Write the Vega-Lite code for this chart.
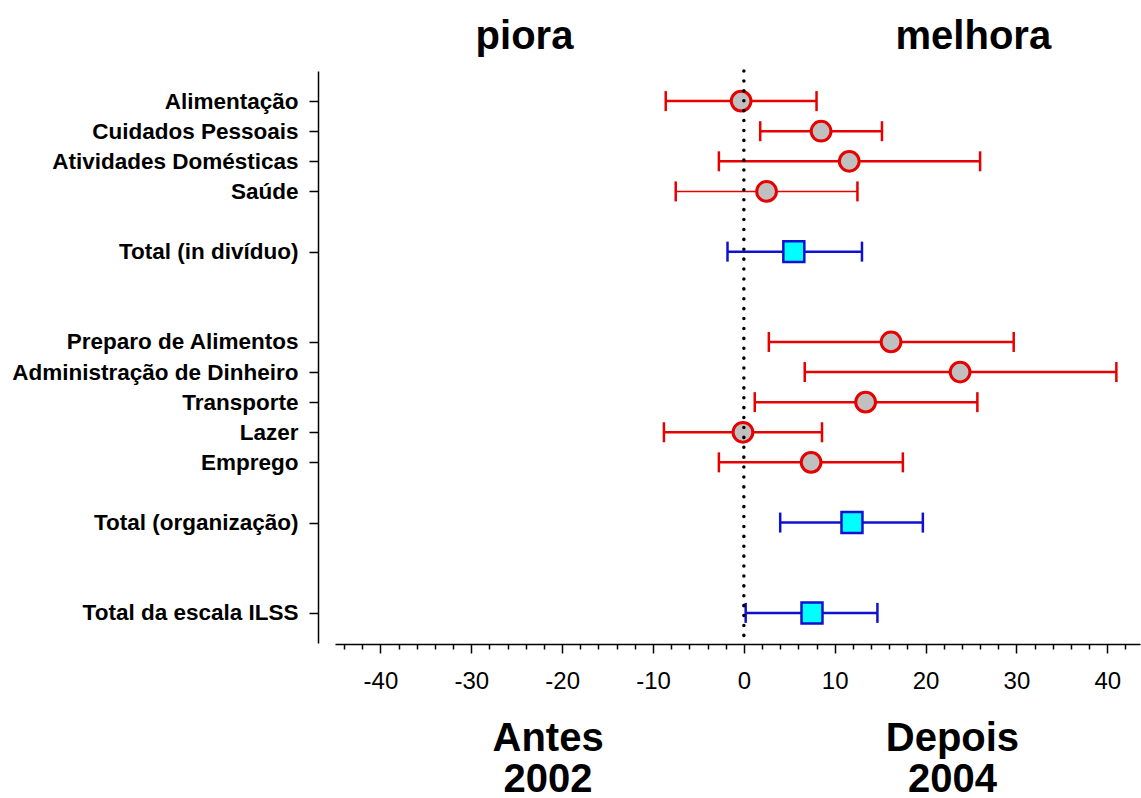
{
  "$schema": "https://vega.github.io/schema/vega-lite/v6.json",
  "width": 805,
  "height": 572,
  "autosize": {"type": "none"},
  "padding": {"left": 335, "top": 71, "right": 1, "bottom": 155},
  "background": "white",
  "config": {"view": {"stroke": null}, "font": "Liberation Sans"},
  "data": {"values": [
    {"name": "Alimentação", "kind": "item", "est": -0.3, "low": -8.6, "high": 8.0},
    {"name": "Cuidados Pessoais", "kind": "item", "est": 8.5, "low": 1.8, "high": 15.2},
    {"name": "Atividades Domésticas", "kind": "item", "est": 11.6, "low": -2.75, "high": 26.0},
    {"name": "Saúde", "kind": "item", "est": 2.5, "low": -7.5, "high": 12.5},
    {"name": "Total (in divíduo)", "kind": "total", "est": 5.5, "low": -1.8, "high": 13.0},
    {"name": "Preparo de Alimentos", "kind": "item", "est": 16.2, "low": 2.75, "high": 29.7},
    {"name": "Administração de Dinheiro", "kind": "item", "est": 23.8, "low": 6.7, "high": 41.0},
    {"name": "Transporte", "kind": "item", "est": 13.4, "low": 1.2, "high": 25.7},
    {"name": "Lazer", "kind": "item", "est": -0.1, "low": -8.8, "high": 8.6},
    {"name": "Emprego", "kind": "item", "est": 7.4, "low": -2.75, "high": 17.5},
    {"name": "Total (organização)", "kind": "total", "est": 11.9, "low": 4.0, "high": 19.7},
    {"name": "Total da escala ILSS", "kind": "total", "est": 7.5, "low": 0.2, "high": 14.7}
  ]},
  "resolve": {"axis": {"x": "independent"}},
  "layer": [
    {
      "mark": {"type": "rule"},
      "encoding": {
        "y": {"field": "name", "type": "nominal",
          "scale": {"type": "point", "padding": 1, "domain": ["Alimentação", "Cuidados Pessoais", "Atividades Domésticas", "Saúde", " ", "Total (in divíduo)", "  ", "   ", "Preparo de Alimentos", "Administração de Dinheiro", "Transporte", "Lazer", "Emprego", "    ", "Total (organização)", "     ", "      ", "Total da escala ILSS"]},
          "axis": {"values": ["Alimentação", "Cuidados Pessoais", "Atividades Domésticas", "Saúde", "Total (in divíduo)", "Preparo de Alimentos", "Administração de Dinheiro", "Transporte", "Lazer", "Emprego", "Total (organização)", "Total da escala ILSS"], "offset": 17, "domainColor": "black", "domainWidth": 1.5, "tickColor": "black", "tickWidth": 1.5, "tickSize": 9, "labelFontSize": 22.5, "labelFontWeight": "bold", "labelColor": "black", "labelPadding": 11, "labelLimit": 400, "title": null, "grid": false}},
        "x": {"field": "low", "type": "quantitative",
          "scale": {"domain": [-45, 43.6], "nice": false, "zero": false},
          "axis": {"values": [-44, -42, -40, -38, -36, -34, -32, -30, -28, -26, -24, -22, -20, -18, -16, -14, -12, -10, -8, -6, -4, -2, 0, 2, 4, 6, 8, 10, 12, 14, 16, 18, 20, 22, 24, 26, 28, 30, 32, 34, 36, 38, 40, 42],
            "labelExpr": "datum.value % 10 === 0 ? '' + datum.value : ''",
            "tickSize": {"condition": {"test": "datum.value % 10 === 0", "value": 9}, "value": 5},
            "tickWidth": 1.5, "tickColor": "black", "domainColor": "black", "domainWidth": 1.5,
            "labelFontSize": 24, "labelColor": "black", "labelPadding": 16, "labelOverlap": false, "labelFlush": false,
            "grid": false, "title": null, "offset": 1, "orient": "bottom"}},
        "x2": {"field": "high"},
        "color": {"field": "kind", "type": "nominal", "scale": {"domain": ["item", "total"], "range": ["#e60000", "#1010d0"]}, "legend": null},
        "strokeWidth": {"condition": {"test": "datum.name === 'Saúde'", "value": 1.5}, "value": 2.5}
      }
    },
    {
      "mark": {"type": "tick", "orient": "vertical", "size": 20, "thickness": 2.5, "opacity": 1},
      "encoding": {
        "y": {"field": "name", "type": "nominal",
          "scale": {"type": "point", "padding": 1, "domain": ["Alimentação", "Cuidados Pessoais", "Atividades Domésticas", "Saúde", " ", "Total (in divíduo)", "  ", "   ", "Preparo de Alimentos", "Administração de Dinheiro", "Transporte", "Lazer", "Emprego", "    ", "Total (organização)", "     ", "      ", "Total da escala ILSS"]},
          "axis": {"values": ["Alimentação", "Cuidados Pessoais", "Atividades Domésticas", "Saúde", "Total (in divíduo)", "Preparo de Alimentos", "Administração de Dinheiro", "Transporte", "Lazer", "Emprego", "Total (organização)", "Total da escala ILSS"], "offset": 17, "domainColor": "black", "domainWidth": 1.5, "tickColor": "black", "tickWidth": 1.5, "tickSize": 9, "labelFontSize": 22.5, "labelFontWeight": "bold", "labelColor": "black", "labelPadding": 11, "labelLimit": 400, "title": null, "grid": false}},
        "x": {"field": "low", "type": "quantitative",
          "axis": {"orient": "top", "values": [-24.2, 25.2], "labelExpr": "datum.value < 0 ? 'piora' : 'melhora'", "labelFontSize": 40, "labelFontWeight": "bold", "labelColor": "black", "labelBaseline": "alphabetic", "labelPadding": 23, "labelOverlap": false, "labelFlush": false, "labelBound": false, "ticks": false, "domain": false, "grid": false, "title": null}},
        "color": {"field": "kind", "type": "nominal", "legend": null}
      }
    },
    {
      "mark": {"type": "tick", "orient": "vertical", "size": 20, "thickness": 2.5, "opacity": 1},
      "encoding": {
        "y": {"field": "name", "type": "nominal",
          "scale": {"type": "point", "padding": 1, "domain": ["Alimentação", "Cuidados Pessoais", "Atividades Domésticas", "Saúde", " ", "Total (in divíduo)", "  ", "   ", "Preparo de Alimentos", "Administração de Dinheiro", "Transporte", "Lazer", "Emprego", "    ", "Total (organização)", "     ", "      ", "Total da escala ILSS"]},
          "axis": {"values": ["Alimentação", "Cuidados Pessoais", "Atividades Domésticas", "Saúde", "Total (in divíduo)", "Preparo de Alimentos", "Administração de Dinheiro", "Transporte", "Lazer", "Emprego", "Total (organização)", "Total da escala ILSS"], "offset": 17, "domainColor": "black", "domainWidth": 1.5, "tickColor": "black", "tickWidth": 1.5, "tickSize": 9, "labelFontSize": 22.5, "labelFontWeight": "bold", "labelColor": "black", "labelPadding": 11, "labelLimit": 400, "title": null, "grid": false}},
        "x": {"field": "high", "type": "quantitative",
          "axis": {"orient": "bottom", "values": [-21.6, 22.9], "labelExpr": "datum.value < 0 ? ['Antes', '2002'] : ['Depois', '2004']", "labelFontSize": 40, "labelFontWeight": "bold", "labelColor": "black", "labelBaseline": "top", "labelLineHeight": 41, "labelPadding": 75, "labelOverlap": false, "labelFlush": false, "labelBound": false, "ticks": false, "domain": false, "grid": false, "title": null}},
        "color": {"field": "kind", "type": "nominal", "legend": null}
      }
    },
    {
      "mark": {"type": "point", "filled": true, "opacity": 1},
      "encoding": {
        "y": {"field": "name", "type": "nominal",
          "scale": {"type": "point", "padding": 1, "domain": ["Alimentação", "Cuidados Pessoais", "Atividades Domésticas", "Saúde", " ", "Total (in divíduo)", "  ", "   ", "Preparo de Alimentos", "Administração de Dinheiro", "Transporte", "Lazer", "Emprego", "    ", "Total (organização)", "     ", "      ", "Total da escala ILSS"]},
          "axis": {"values": ["Alimentação", "Cuidados Pessoais", "Atividades Domésticas", "Saúde", "Total (in divíduo)", "Preparo de Alimentos", "Administração de Dinheiro", "Transporte", "Lazer", "Emprego", "Total (organização)", "Total da escala ILSS"], "offset": 17, "domainColor": "black", "domainWidth": 1.5, "tickColor": "black", "tickWidth": 1.5, "tickSize": 9, "labelFontSize": 22.5, "labelFontWeight": "bold", "labelColor": "black", "labelPadding": 11, "labelLimit": 400, "title": null, "grid": false}},
        "x": {"field": "est", "type": "quantitative", "axis": null},
        "shape": {"field": "kind", "type": "nominal", "scale": {"domain": ["item", "total"], "range": ["circle", "square"]}, "legend": null},
        "fill": {"field": "kind", "type": "nominal", "scale": {"domain": ["item", "total"], "range": ["#c0c0c0", "#00ffff"]}, "legend": null},
        "stroke": {"field": "kind", "type": "nominal", "scale": {"domain": ["item", "total"], "range": ["#e60000", "#1010d0"]}, "legend": null},
        "size": {"field": "kind", "type": "nominal", "scale": {"domain": ["item", "total"], "range": [390, 440]}, "legend": null},
        "strokeWidth": {"condition": {"test": "datum.kind === 'item'", "value": 3}, "value": 2.5}
      }
    },
    {
      "data": {"values": [{}]},
      "mark": {"type": "rule", "color": "black", "strokeWidth": 3.5, "strokeDash": [0.1, 9.8], "strokeCap": "round"},
      "encoding": {
        "x": {"datum": 0, "type": "quantitative", "axis": null}
      }
    }
  ]
}
